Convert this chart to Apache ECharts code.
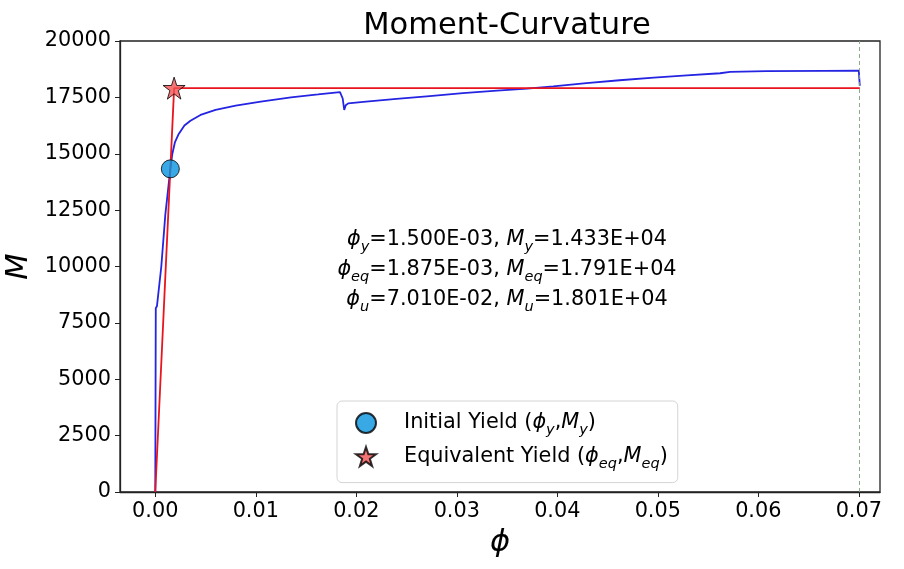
<!DOCTYPE html>
<html>
<head>
<meta charset="utf-8">
<script src="https://cdn.jsdelivr.net/npm/echarts@6/dist/echarts.min.js"></script>
<style>
  html, body { margin: 0; padding: 0; background: #fff; }
  #chart { width: 904px; height: 569px; }
</style>
</head>
<body>
<div id="chart"></div>
<script>
// 弯矩-曲率曲线 (读自图片)
var phiCurve = [0, 0.00005, 0.00007, 0.00017, 0.0006, 0.001, 0.0015, 0.0017, 0.00195, 0.0023,
    0.0029, 0.0035, 0.0045, 0.006, 0.008, 0.0105, 0.0135, 0.0162, 0.01838, 0.0185,
    0.01865, 0.0188, 0.01895, 0.0192, 0.0207, 0.024, 0.0273, 0.0306, 0.034, 0.037,
    0.0396, 0.0429, 0.0462, 0.0496, 0.0529, 0.0562, 0.0572, 0.0608, 0.0665, 0.07, 0.0701];
var momentCurve = [0, 8150, 8200, 8250, 10000, 12300, 14330, 15000, 15500, 15850,
    16250, 16460, 16720, 16950, 17130, 17310, 17500, 17630, 17737, 17740,
    17450, 16940, 17150, 17235, 17300, 17430, 17560, 17690, 17800, 17890,
    17990, 18130, 18260, 18380, 18480, 18570, 18630, 18660, 18675, 18680, 18010];

// 双线性等效
var phiY = 0.0015, mY = 14330;
var phiEq = 0.001875, mEq = 17910;
var phiU = 0.0701, mU = 18010;
var bilinearPhi = [0, phiEq, phiU];
var bilinearM = [0, mEq, mEq];

// 刻度
var xTicks = [0, 0.01, 0.02, 0.03, 0.04, 0.05, 0.06, 0.07];

var starPath = 'path://M50,2 L61.5,37 L98,37 L68.5,58.5 L79.5,94 L50,72 L20.5,94 L31.5,58.5 L2,37 L38.5,37 Z';

function zip(a, b) {
    var out = [];
    for (var i = 0; i < a.length; i++) out.push([a[i], b[i]]);
    return out;
}

var font = 'DejaVu Sans';
var legendRich = {
    n: { fontFamily: font, fontSize: 20.8, lineHeight: 30, verticalAlign: 'middle', color: '#000' },
    i: { fontFamily: font, fontSize: 20.8, fontStyle: 'italic', lineHeight: 30, verticalAlign: 'middle', color: '#000' },
    s: { fontFamily: font, fontSize: 14.5, fontStyle: 'italic', lineHeight: 21, verticalAlign: 'bottom', color: '#000' },
    sp: { width: 23 }
};

var chart = echarts.init(document.getElementById('chart'), null, { renderer: 'canvas' });

chart.setOption({
    animation: false,
    backgroundColor: '#fff',
    title: {
        text: 'Moment-Curvature',
        left: 502,
        textAlign: 'center',
        top: 6,
        textStyle: { fontFamily: font, fontSize: 30.5, fontWeight: 'normal', color: '#000' }
    },
    grid: {
        left: 120, right: 24, top: 41, bottom: 77,
        outerBoundsMode: 'none',
        containLabel: false,
        show: true, borderColor: '#222', borderWidth: 1.3, backgroundColor: 'transparent'
    },
    legend: {
        orient: 'vertical',
        left: 337,
        top: 401,
        data: ['Initial Yield', 'Equivalent Yield'],
        itemWidth: 20,
        itemHeight: 20,
        itemGap: 8,
        padding: [11, 10, 11, 18],
        backgroundColor: '#fff',
        borderColor: '#d4d4d4',
        borderWidth: 1,
        borderRadius: 5,
        formatter: function (name) {
            if (name === 'Initial Yield') {
                return '{sp|}{n|Initial Yield (}{i|ϕ}{s|y}{n|,}{i|M}{s|y}{n|)}';
            }
            return '{sp|}{n|Equivalent Yield (}{i|ϕ}{s|eq}{n|,}{i|M}{s|eq}{n|)}';
        },
        textStyle: { rich: legendRich }
    },
    xAxis: {
        type: 'value',
        min: -0.00351,
        max: 0.07211,
        name: 'ϕ',
        nameLocation: 'middle',
        nameGap: 36,
        nameTextStyle: { fontFamily: font, fontSize: 30.5, fontStyle: 'italic', color: '#000' },
        splitLine: { show: false },
        axisLine: { show: true, onZero: false, lineStyle: { color: '#222', width: 1.3 } },
        axisTick: { show: true, inside: false, length: 5, customValues: xTicks, lineStyle: { color: '#222' } },
        axisLabel: {
            customValues: xTicks,
            margin: 9,
            fontFamily: font, fontSize: 20.8, color: '#000',
            formatter: function (v) { return v.toFixed(2); }
        }
    },
    yAxis: {
        type: 'value',
        min: 0,
        max: 20000,
        interval: 2500,
        name: 'M',
        nameLocation: 'middle',
        nameGap: 83,
        nameRotate: 90,
        nameTextStyle: { fontFamily: font, fontSize: 30.5, fontStyle: 'italic', color: '#000' },
        splitLine: { show: false },
        axisLine: { show: true, onZero: false, lineStyle: { color: '#222', width: 1.3 } },
        axisTick: { show: true, inside: false, length: 5, lineStyle: { color: '#222' } },
        axisLabel: {
            margin: 9,
            fontFamily: font, fontSize: 20.8, color: '#000',
            formatter: function (v) { return String(v); }
        }
    },
    graphic: [
        {
            type: 'text',
            style: {
                x: 507, y: 270,
                align: 'center', verticalAlign: 'middle',
                text: '{i|ϕ}{s|y}{n|=1.500E-03, }{i|M}{s|y}{n|=1.433E+04}\n' +
                      '{i|ϕ}{s|eq}{n|=1.875E-03, }{i|M}{s|eq}{n|=1.791E+04}\n' +
                      '{i|ϕ}{s|u}{n|=7.010E-02, }{i|M}{s|u}{n|=1.801E+04}',
                rich: {
                    n: { fontFamily: font, fontSize: 20.8, lineHeight: 30, verticalAlign: 'middle', color: '#000' },
                    i: { fontFamily: font, fontSize: 20.8, fontStyle: 'italic', lineHeight: 30, verticalAlign: 'middle', color: '#000' },
                    s: { fontFamily: font, fontSize: 14.5, fontStyle: 'italic', lineHeight: 21, verticalAlign: 'bottom', color: '#000' }
                }
            }
        }
    ],
    series: [
        {
            name: 'Curve',
            type: 'line',
            data: zip(phiCurve, momentCurve),
            showSymbol: false,
            z: 2,
            lineStyle: { color: '#2424e2', width: 1.8 },
            markLine: {
                silent: true,
                symbol: 'none',
                label: { show: false },
                lineStyle: { color: '#80a080', type: [4, 3], width: 0.9 },
                data: [{ xAxis: phiU }]
            }
        },
        {
            name: 'Bilinear',
            type: 'line',
            data: zip(bilinearPhi, bilinearM),
            showSymbol: false,
            z: 3,
            lineStyle: { color: '#e8141e', width: 1.8 }
        },
        {
            name: 'Initial Yield',
            type: 'scatter',
            data: [[phiY, mY]],
            symbol: 'circle',
            symbolSize: 18,
            z: 5,
            itemStyle: { color: '#0894e0', borderColor: '#000', borderWidth: 1 }
        },
        {
            name: 'Equivalent Yield',
            type: 'scatter',
            data: [[phiEq, mEq]],
            symbol: starPath,
            symbolSize: 22,
            z: 5,
            itemStyle: { color: '#f25252', borderColor: '#000', borderWidth: 1 }
        }
    ]
});
</script>
</body>
</html>
